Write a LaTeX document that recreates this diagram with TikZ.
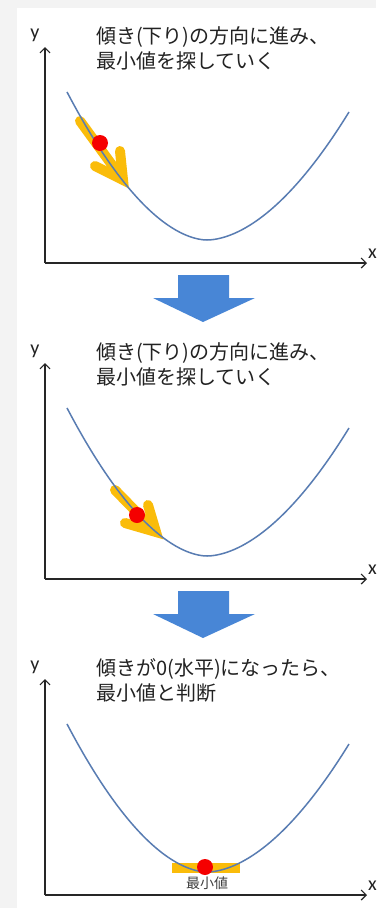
\documentclass[tikz,border=0pt]{standalone}
\usepackage{fontspec}
\newfontfamily\jpf{Noto Sans CJK JP}
\newfontfamily\latf{Carlito}
\usetikzlibrary{arrows.meta}
\definecolor{bggray}{RGB}{243,243,243}
\definecolor{curveblue}{RGB}{88,124,178}
\definecolor{arrowblue}{RGB}{72,134,214}
\definecolor{goldc}{RGB}{250,188,10}
\definecolor{dotred}{RGB}{245,0,0}
\definecolor{txtc}{RGB}{34,34,34}
\tikzset{
  axisline/.style={line width=1.2pt, black!85, -{Straight Barb[length=5pt,width=10pt]}},
  curveline/.style={line width=1.5pt, curveblue},
  goldline/.style={line width=10pt, goldc, line cap=round, line join=miter},
  reddot/.style={circle, fill=dotred, inner sep=0pt, minimum size=16pt},
  captxt/.style={font=\jpf\fontsize{20}{24}\selectfont, text=txtc, inner sep=0pt, anchor=base west},
  axtxt/.style={font=\latf\fontsize{20}{24}\selectfont, text=txtc, inner sep=0pt},
  bluearrow/.style={fill=arrowblue, draw=none},
}
\newcommand\gdPanel[1]{%
  \coordinate (o#1) at (45,263);
  \coordinate (ytop#1) at (45,47);
  \coordinate (xend#1) at (367,263);
  \draw[axisline] (o#1) -- (ytop#1);
  \draw[axisline] (o#1) -- (xend#1);
  \node[axtxt, anchor=base] (ylab#1) at (35,38) {y};
  \node[axtxt, anchor=base west] (xlab#1) at (368,258) {x};
}
\newcommand\gdCurve[1]{%
  \draw[curveline] plot[domain=67:207, samples=70] (\x,{240-0.0203*(207.001-\x)^1.8})
    -- plot[domain=207:349, samples=70] (\x,{240-0.0171*(\x-206.999)^1.8});
}
\begin{document}
\begin{tikzpicture}[x=1pt,y=-1pt]
  \useasboundingbox (0,0) rectangle (376,908);
  \fill[bggray] (0,0) rectangle (376,908);
  \fill[white] (17,8) rectangle (376,908);

  % ---------- panel 1 ----------
  \gdPanel{1}
  \node[captxt] (c1a) at (96,43) {傾き(下り)の方向に進み、};
  \node[captxt] (c1b) at (96,68) {最小値を探していく};
  \coordinate (s1) at (80,121);
  \coordinate (t1) at (123,180);
  \coordinate (h1a) at (120,151);
  \coordinate (h1b) at (95,166);
  \draw[goldline] (s1) -- (t1);
  \draw[goldline] (h1a) -- (t1) -- (h1b);
  \gdCurve{1}
  \node[reddot] (d1) at (100,143) {};

  % blue arrow 1
  \fill[bluearrow] (178,275) -- (229,275) -- (229,298) -- (255,298) -- (203,322) -- (153,298) -- (178,298) -- cycle;

  % ---------- panel 2 ----------
  \begin{scope}[shift={(0,316)}]
    \gdPanel{2}
    \node[captxt] (c2a) at (96,43) {傾き(下り)の方向に進み、};
    \node[captxt] (c2b) at (96,68) {最小値を探していく};
    \coordinate (s2) at (115,174);
    \coordinate (t2) at (156,216);
    \coordinate (h2a) at (148,189);
    \coordinate (h2b) at (125,207);
    \draw[goldline] (s2) -- (t2);
    \draw[goldline] (h2a) -- (t2) -- (h2b);
    \gdCurve{2}
    \node[reddot] (d2) at (137,199) {};
    % blue arrow 2
    \fill[bluearrow] (178,275) -- (229,275) -- (229,298) -- (255,298) -- (203,322) -- (153,298) -- (178,298) -- cycle;
  \end{scope}

  % ---------- panel 3 ----------
  \begin{scope}[shift={(0,632)}]
    \gdPanel{3}
    \node[captxt] (c3a) at (96,43) {傾きが0(水平)になったら、};
    \node[captxt] (c3b) at (96,68) {最小値と判断};
    \fill[goldc] (172,231) rectangle (240,241);
    \gdCurve{3}
    \node[reddot] (d3) at (205,235) {};
    \node[font=\jpf\fontsize{14}{16}\selectfont, text=black!75, inner sep=0pt] (mn) at (207,251) {最小値};
  \end{scope}
\end{tikzpicture}
\end{document}
